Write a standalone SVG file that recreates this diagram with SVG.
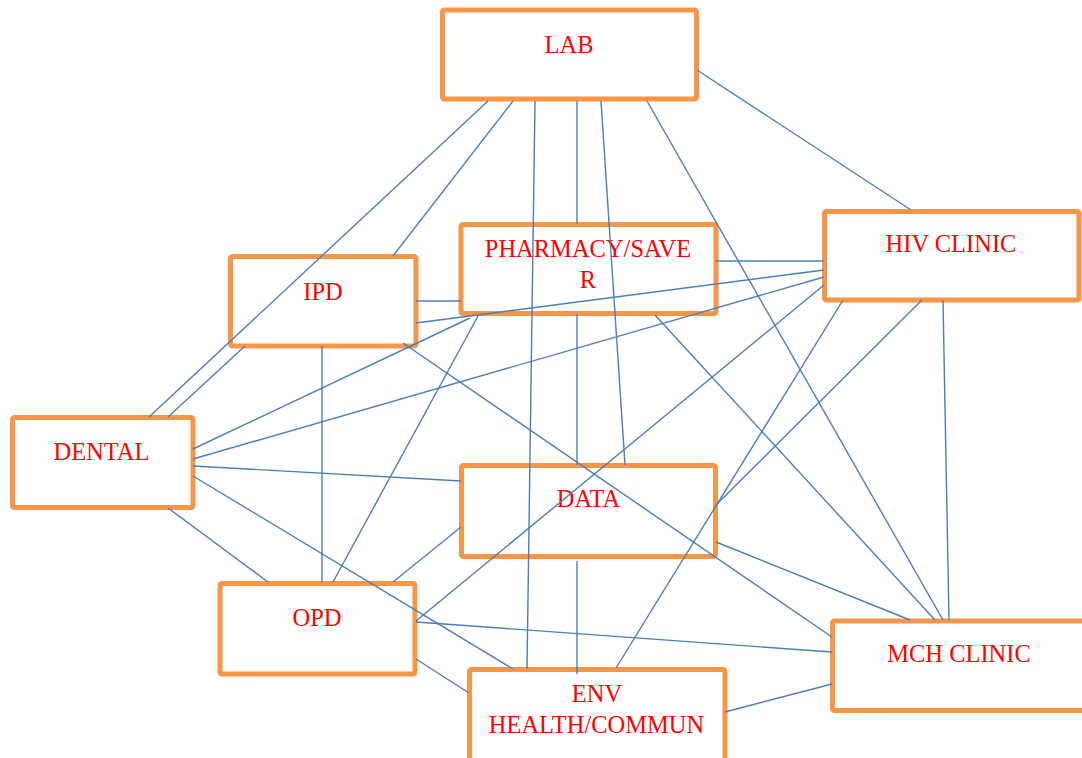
<svg xmlns="http://www.w3.org/2000/svg" width="1082" height="758" viewBox="0 0 1082 758">
<style>
.box{fill:#ffffff;stroke:#F79646;stroke-width:5;stroke-linejoin:round}
.lbl{font-family:"Liberation Serif","Times New Roman",serif;font-size:24.5px;fill:#FF0000;text-anchor:middle}
.c line{stroke:#4A7EBB;stroke-width:1.4;fill:none}
</style>
<rect width="1082" height="758" fill="#ffffff"/>
<g id="node-lab"><rect class="box" x="442.5" y="10" width="254" height="89" rx="2"/><text class="lbl" x="569" y="53">LAB</text></g>
<g id="node-pharmacy"><rect class="box" x="461" y="224.5" width="255" height="89" rx="2"/><text class="lbl" x="588" y="257">PHARMACY/SAVE</text><text class="lbl" x="588" y="288">R</text></g>
<g id="node-hiv"><rect class="box" x="824.5" y="211.5" width="254.5" height="88.5" rx="2"/><text class="lbl" x="951" y="252">HIV CLINIC</text></g>
<g id="node-ipd"><rect class="box" x="230.5" y="256.5" width="185.5" height="89.5" rx="2"/><text class="lbl" x="323" y="300">IPD</text></g>
<g id="node-dental"><rect class="box" x="12.5" y="417.5" width="180.5" height="90" rx="2"/><text class="lbl" x="101.5" y="460">DENTAL</text></g>
<g id="node-data"><rect class="box" x="461.5" y="465.5" width="254" height="91" rx="2"/><text class="lbl" x="588.5" y="507">DATA</text></g>
<g id="node-opd"><rect class="box" x="220" y="583.5" width="195" height="90.5" rx="2"/><text class="lbl" x="317" y="626">OPD</text></g>
<g id="node-env"><rect class="box" x="469.5" y="669.5" width="255.5" height="95" rx="2"/><text class="lbl" x="597" y="702">ENV</text><text class="lbl" x="596.5" y="733">HEALTH/COMMUN</text></g>
<g id="node-mch"><rect class="box" x="832.5" y="621" width="255" height="89.5" rx="2"/><text class="lbl" x="959" y="662">MCH CLINIC</text></g>
<g id="connectors" class="c">
<line x1="488" y1="101" x2="149" y2="417"/>
<line x1="513" y1="101" x2="393" y2="256"/>
<line x1="535" y1="101" x2="527" y2="669"/>
<line x1="577" y1="101" x2="577" y2="224"/>
<line x1="601" y1="101" x2="625" y2="465"/>
<line x1="647" y1="101" x2="943" y2="620"/>
<line x1="697" y1="70" x2="911" y2="210"/>
<line x1="716" y1="261" x2="824" y2="261"/>
<line x1="416" y1="301" x2="461" y2="301"/>
<line x1="577" y1="314" x2="577" y2="465"/>
<line x1="655" y1="315" x2="935" y2="620"/>
<line x1="478" y1="316" x2="333" y2="582"/>
<line x1="193" y1="449" x2="470" y2="318"/>
<line x1="416" y1="323" x2="824" y2="270"/>
<line x1="193" y1="459" x2="824" y2="277"/>
<line x1="824" y1="285" x2="416" y2="621"/>
<line x1="843" y1="300" x2="616" y2="668"/>
<line x1="922" y1="300" x2="716" y2="505"/>
<line x1="943" y1="300" x2="949" y2="620"/>
<line x1="716" y1="542" x2="910" y2="620"/>
<line x1="403" y1="343" x2="832" y2="637"/>
<line x1="416" y1="622" x2="832" y2="652"/>
<line x1="725" y1="712" x2="832" y2="684"/>
<line x1="416" y1="659" x2="469" y2="693"/>
<line x1="393" y1="582" x2="461" y2="527"/>
<line x1="322" y1="346" x2="322" y2="583"/>
<line x1="577" y1="561" x2="577" y2="674"/>
<line x1="193" y1="466" x2="461" y2="481"/>
<line x1="193" y1="476" x2="513" y2="669"/>
<line x1="168" y1="508" x2="268" y2="582"/>
<line x1="245" y1="346" x2="168" y2="417"/>
</g>
</svg>
